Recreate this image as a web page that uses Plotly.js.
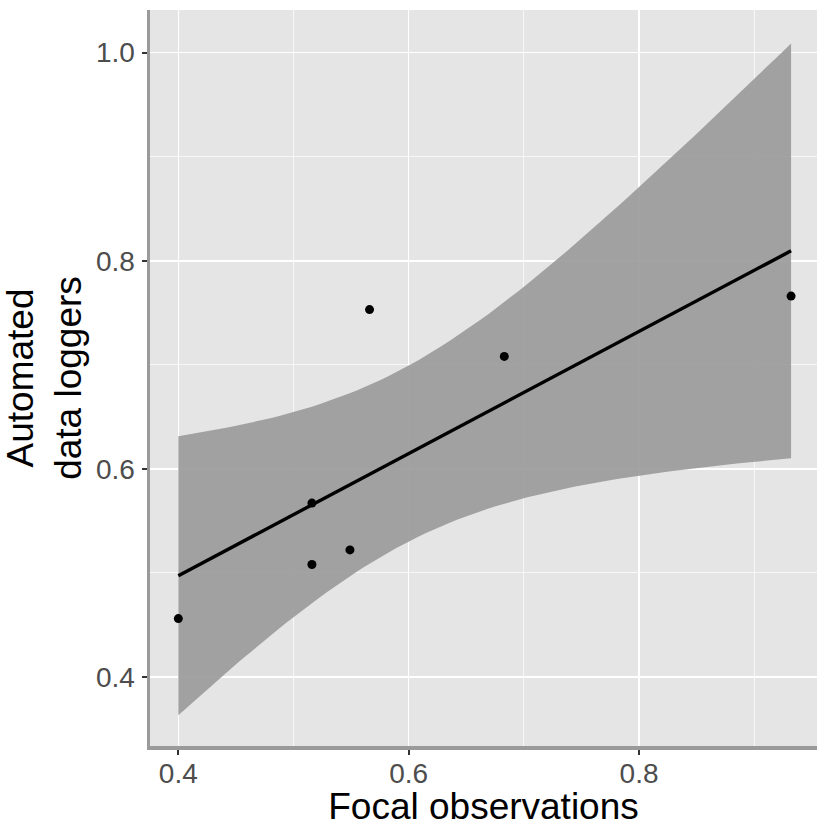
<!DOCTYPE html>
<html>
<head>
<meta charset="utf-8">
<script src="https://cdn.plot.ly/plotly-3.0.1.min.js"></script>
<style>html,body{margin:0;padding:0;background:#fff;}#chart{width:817px;height:827px;}</style>
</head>
<body>
<div id="chart"></div>
<script>
// Data
const focal = [0.400, 0.516, 0.516, 0.549, 0.566, 0.683, 0.932];
const loggers = [0.456, 0.567, 0.508, 0.522, 0.753, 0.708, 0.766];
const xTicks = [0.4, 0.6, 0.8];
const yTicks = [0.4, 0.6, 0.8, 1.0];
const minorTicks = [0.5, 0.7, 0.9];
const xTitle = "Focal observations";
const yTitle = "Automated<br>data loggers";

// Linear fit with 95% confidence band (like geom_smooth(method = "lm"))
function linFit(x, y) {
  const n = x.length;
  const mx = x.reduce((a, b) => a + b, 0) / n;
  const my = y.reduce((a, b) => a + b, 0) / n;
  let sxx = 0, sxy = 0;
  for (let i = 0; i < n; i++) { sxx += (x[i] - mx) ** 2; sxy += (x[i] - mx) * (y[i] - my); }
  const b = sxy / sxx, a = my - b * mx;
  let ssr = 0;
  for (let i = 0; i < n; i++) ssr += (y[i] - a - b * x[i]) ** 2;
  const s = Math.sqrt(ssr / (n - 2));
  const t = 2.570582; // t(0.975, df=5)
  const xmin = Math.min(...x), xmax = Math.max(...x);
  const gx = [], gy = [], lo = [], hi = [];
  const m = 80;
  for (let k = 0; k < m; k++) {
    const xv = xmin + (xmax - xmin) * k / (m - 1);
    const yv = a + b * xv;
    const se = s * Math.sqrt(1 / n + (xv - mx) ** 2 / sxx);
    gx.push(xv); gy.push(yv); lo.push(yv - t * se); hi.push(yv + t * se);
  }
  return {gx, gy, lo, hi};
}
const fit = linFit(focal, loggers);

const font = "Liberation Sans, Arial, Helvetica, sans-serif";

const traces = [
  {x: fit.gx, y: fit.lo, mode: 'lines', line: {width: 0, color: 'rgba(0,0,0,0)'}, hoverinfo: 'skip', showlegend: false},
  {x: fit.gx, y: fit.hi, mode: 'lines', fill: 'tonexty', fillcolor: 'rgba(153,153,153,0.9)', line: {width: 0, color: 'rgba(0,0,0,0)'}, hoverinfo: 'skip', showlegend: false},
  {x: fit.gx, y: fit.gy, mode: 'lines', line: {color: '#000', width: 3.4}, showlegend: false},
  {x: focal, y: loggers, mode: 'markers', marker: {color: '#000', size: 9}, showlegend: false}
];

const axisCommon = {
  showgrid: true, gridcolor: '#FFFFFF', gridwidth: 1.6,
  zeroline: false,
  showline: true, linecolor: '#9A9A9A', linewidth: 3.5,
  ticks: 'outside', ticklen: 5, tickwidth: 2, tickcolor: '#333333',
  tickfont: {family: font, size: 28, color: '#4D4D4D'},
  mirror: false
};

const layout = {
  width: 817, height: 827,
  margin: {l: 150, r: 0, t: 10, b: 81},
  paper_bgcolor: '#FFFFFF',
  plot_bgcolor: '#E5E5E5',
  showlegend: false,
  xaxis: Object.assign({}, axisCommon, {
    range: [0.3754, 0.9545],
    tickvals: xTicks, ticktext: xTicks.map(v => v.toFixed(1)),
    minor: {showgrid: true, gridcolor: '#FFFFFF', gridwidth: 0.7, tickvals: minorTicks, ticks: ''},
    ticklabelstandoff: -5,
    title: {text: xTitle, font: {family: font, size: 37, color: '#000'}, standoff: 14}
  }),
  yaxis: Object.assign({}, axisCommon, {
    range: [0.3335, 1.041],
    tickvals: yTicks, ticktext: yTicks.map(v => v.toFixed(1)),
    minor: {showgrid: true, gridcolor: '#FFFFFF', gridwidth: 0.7, tickvals: minorTicks, ticks: ''},
    ticklabelstandoff: 1,
    title: {text: yTitle, font: {family: font, size: 37, color: '#000'}, standoff: 9}
  })
};

Plotly.newPlot('chart', traces, layout, {displayModeBar: false, staticPlot: true});
</script>
</body>
</html>
